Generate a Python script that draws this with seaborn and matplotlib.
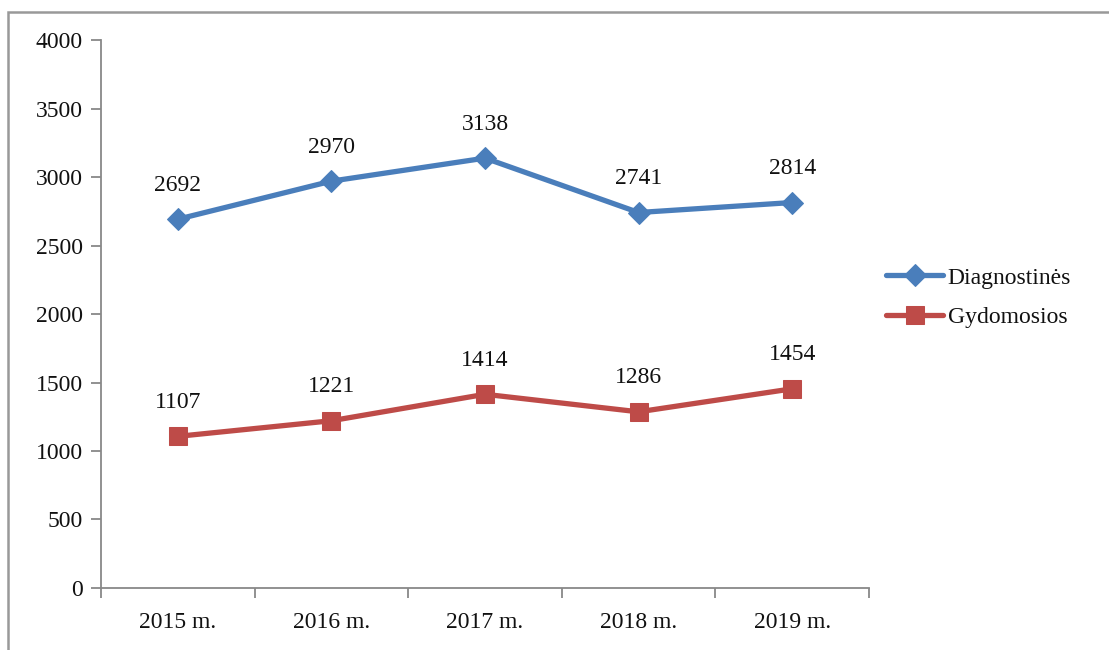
import matplotlib
matplotlib.use("Agg")
import matplotlib.pyplot as plt
import seaborn as sns
import pandas as pd
import numpy as np
from matplotlib.patches import Rectangle

# Data
years = ['2015 m.', '2016 m.', '2017 m.', '2018 m.', '2019 m.']
diagnostines = [2692, 2970, 3138, 2741, 2814]
gydomosios = [1107, 1221, 1414, 1286, 1454]

df = pd.DataFrame({
    'Metai': years * 2,
    'Kiekis': diagnostines + gydomosios,
    'Tipas': ['Diagnostinės'] * len(years) + ['Gydomosios'] * len(years),
})

sns.set_style('white')
plt.rcParams['font.family'] = ['Liberation Serif', 'DejaVu Serif']

fs = 17

fig = plt.figure(figsize=(11.09, 6.5), dpi=100)
ax = fig.add_axes([0.0911, 0.0954, 0.6925, 0.843])

palette = {'Diagnostinės': '#4A7EBB', 'Gydomosios': '#BE4B48'}
markers = {'Diagnostinės': 'D', 'Gydomosios': 's'}
sizes = {'Diagnostinės': 11, 'Gydomosios': 13}

for name, grp in df.groupby('Tipas', sort=False):
    sns.lineplot(data=grp, x='Metai', y='Kiekis', ax=ax, color=palette[name],
                 marker=markers[name], markersize=sizes[name], linewidth=3.8,
                 markeredgecolor=palette[name], label=name, sort=False)
    for xi, v in enumerate(grp['Kiekis']):
        ax.annotate(f'{v}', (xi, v), xytext=(0, 17), textcoords='offset points',
                    ha='center', va='bottom', fontsize=fs, color='#111111')

ax.set_xlim(-0.5, 4.5)
ax.set_ylim(0, 4000)
ax.set_yticks(np.arange(0, 4001, 500))
ax.set_xticks(range(len(years)))
ax.set_xticklabels(years)
ax.set_xticks(np.arange(-0.5, 4.6, 1), minor=True)
ax.tick_params(axis='x', which='major', bottom=False, length=0, pad=17, labelsize=fs, labelcolor='#111111')
ax.tick_params(axis='x', which='minor', bottom=True, length=7, width=1.3, color='#888888', direction='out')
ax.tick_params(axis='y', left=True, length=7, width=1.3, color='#888888', direction='out',
               labelsize=fs, pad=6, labelcolor='#111111')
ax.set_xlabel('')
ax.set_ylabel('')

for s in ['top', 'right']:
    ax.spines[s].set_visible(False)
for s in ['left', 'bottom']:
    ax.spines[s].set_color('#888888')
    ax.spines[s].set_linewidth(1.3)

leg = ax.legend(loc='center left', bbox_to_anchor=(0.995, 0.53), frameon=False,
                fontsize=fs, handlelength=2.4, handletextpad=0.2, labelspacing=0.75)
for t in leg.get_texts():
    t.set_color('#111111')

# outer border of the chart area
fig.patches.append(Rectangle((8 / 1109, -0.05), 1.1, 1 - 12 / 650 + 0.05,
                             transform=fig.transFigure, fill=False,
                             edgecolor='#999999', linewidth=1.8))

fig.savefig('out.png', dpi=100)
